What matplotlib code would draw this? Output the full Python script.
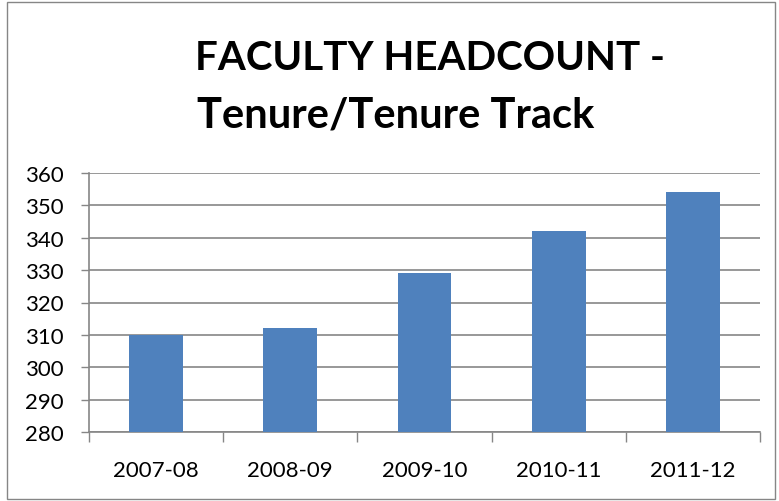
import matplotlib
matplotlib.use("Agg")
import matplotlib.pyplot as plt
from matplotlib.patches import Rectangle
import numpy as np

categories = ["2007-08", "2008-09", "2009-10", "2010-11", "2011-12"]
values = [310, 312, 329, 342, 354]
y_ticks = list(range(280, 361, 10))
title_line1 = "FACULTY HEADCOUNT -"
title_line2 = "Tenure/Tenure Track"

W, H = 779, 502
fig = plt.figure(figsize=(W / 100, H / 100), dpi=100)
plt.rcParams['font.family'] = ['Lato', 'DejaVu Sans']

# outer border
fig.patches.append(Rectangle((7 / W, 2 / H), (775 - 7) / W, (499 - 2) / H,
                             transform=fig.transFigure, fill=False,
                             edgecolor='#868686', linewidth=1.0))

ax = fig.add_axes([89 / W, (H - 433) / H, (760 - 89) / W, (433 - 174) / H])
x = np.arange(len(categories))
ax.bar(x, values, width=0.4, color='#4F81BD', zorder=3, bottom=0)
ax.set_ylim(280, 360)
ax.set_xlim(-0.5, len(categories) - 0.5)
ax.set_yticks(y_ticks)
ax.set_xticks(x)
ax.set_xticklabels(categories, fontsize=16)
ax.set_xticks(np.arange(-0.5, len(categories), 1), minor=True)
ax.tick_params(axis='x', which='major', length=0, pad=20)
ax.tick_params(axis='x', which='minor', length=7, width=1, color='#868686', direction='out')
ax.tick_params(axis='y', length=6, width=1, color='#868686', direction='out', labelsize=16, pad=12)
ax.yaxis.grid(True, color='#868686', linewidth=1.2, zorder=0)
for s in ['top', 'right']:
    ax.spines[s].set_visible(False)
for s in ['left', 'bottom']:
    ax.spines[s].set_color('#868686')
    ax.spines[s].set_linewidth(1.2)

fig.text(195 / W, (H - 70) / H, title_line1, ha='left', va='baseline',
         fontsize=29, fontweight='bold')
fig.text(197 / W, (H - 128) / H, title_line2, ha='left', va='baseline',
         fontsize=30, fontweight='bold')

fig.savefig("out.png", dpi=100)
